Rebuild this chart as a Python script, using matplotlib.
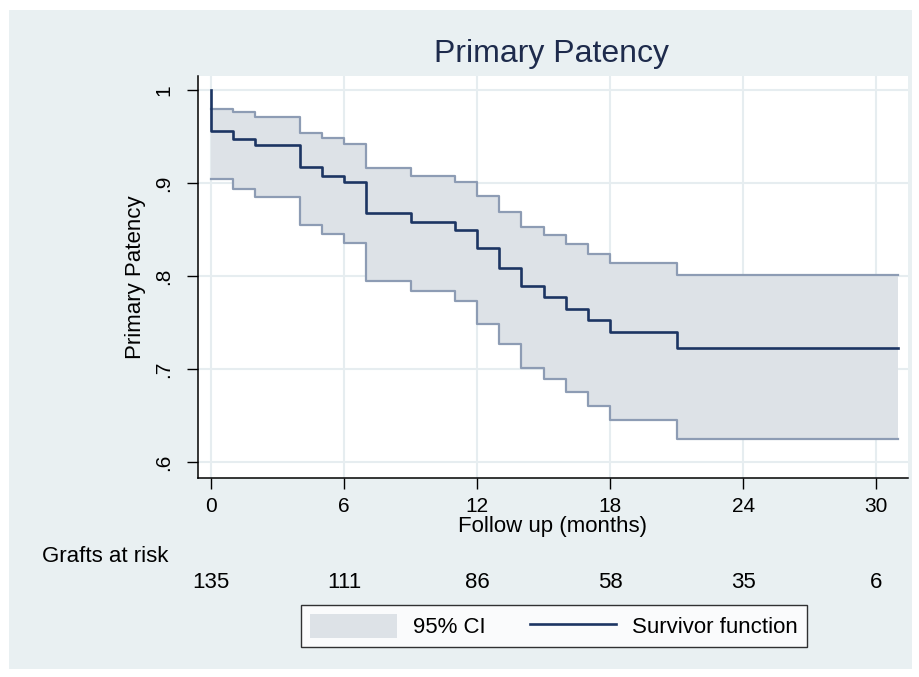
import matplotlib
matplotlib.use("Agg")
import matplotlib.pyplot as plt
import matplotlib.transforms as mtransforms
from matplotlib.patches import Patch, Rectangle
from matplotlib.lines import Line2D

plt.rcParams["font.family"] = ["Liberation Sans", "DejaVu Sans"]

# Kaplan-Meier estimate (months)
times = [0, 1, 2, 4, 5, 6, 7, 9, 11, 12, 13, 14, 15, 16, 17, 18, 21, 31]
survival = [0.956, 0.947, 0.941, 0.917, 0.908, 0.901, 0.868, 0.858, 0.849,
            0.830, 0.809, 0.789, 0.777, 0.765, 0.753, 0.740, 0.723, 0.723]
upper_ci = [0.980, 0.976, 0.971, 0.954, 0.948, 0.942, 0.916, 0.908, 0.901,
            0.886, 0.869, 0.853, 0.844, 0.834, 0.824, 0.814, 0.801, 0.801]
lower_ci = [0.904, 0.894, 0.885, 0.855, 0.845, 0.835, 0.795, 0.784, 0.773,
            0.749, 0.727, 0.701, 0.689, 0.675, 0.660, 0.645, 0.625, 0.625]

risk_times = [0, 6, 12, 18, 24, 30]
at_risk = [135, 111, 86, 58, 35, 6]

y_ticks = [0.6, 0.7, 0.8, 0.9, 1.0]
y_labels = [".6", ".7", ".8", ".9", "1"]

BG = "#e9f0f2"
NAVY = "#1c3563"
CI_FILL = "#dde2e7"
CI_EDGE = "#8d9cb4"

W, H = 920, 677
fig = plt.figure(figsize=(W / 100, H / 100), dpi=100, facecolor="white")
fig.patches.append(Rectangle((9 / W, 8 / H), 903 / W, 659 / H,
                             transform=fig.transFigure, facecolor=BG,
                             edgecolor="none", zorder=-10))

ax = fig.add_axes([198 / W, (H - 478) / H, 710 / W, 402 / H])
ax.set_facecolor("white")

# CI band and bounds
ax.fill_between(times, lower_ci, upper_ci, step="post", color=CI_FILL,
                linewidth=0, zorder=2)
ax.step(times, upper_ci, where="post", color=CI_EDGE, lw=1.6, zorder=3)
ax.step(times, lower_ci, where="post", color=CI_EDGE, lw=1.6, zorder=3)

# survivor function, starting at 1 at time 0
ax.step([0] + times, [1.0] + survival, where="post", color=NAVY, lw=1.9,
        zorder=4)

ax.set_xlim(-0.59, 31.44)
ax.set_ylim(0.583, 1.015)
ax.set_xticks(risk_times)
ax.set_yticks(y_ticks)
ax.set_yticklabels(y_labels, rotation=90, va="center")
ax.tick_params(axis="both", labelsize=15, length=8, width=1,
               colors="black")
ax.tick_params(axis="x", pad=6)
ax.tick_params(axis="y", pad=10)
ax.grid(True, color="#e6edf0", lw=1.5, zorder=0)
ax.set_axisbelow(True)
for side in ("top", "right"):
    ax.spines[side].set_visible(False)
for side in ("left", "bottom"):
    ax.spines[side].set_linewidth(1.1)

ax.set_xlabel("Follow up (months)", fontsize=16, labelpad=0)
ax.set_ylabel("Primary Patency", fontsize=16, labelpad=6)
fig.text(551 / W, (H - 54) / H, "Primary Patency", fontsize=23,
         color="#1e2b4c", ha="center", va="center")

# number at risk table
trans = mtransforms.blended_transform_factory(ax.transData, fig.transFigure)
fig.text(42 / W, (H - 557) / H, "Grafts at risk", fontsize=16,
         ha="left", va="center")
for t, n in zip(risk_times, at_risk):
    ax.text(t, (H - 583) / H, str(n), transform=trans, fontsize=16,
            ha="center", va="center", clip_on=False)

handles = [Patch(facecolor=CI_FILL, edgecolor="none"),
           Line2D([0], [0], color=NAVY, lw=1.9)]
leg = fig.legend(handles, ["95% CI", "Survivor function"], ncol=2,
                 loc="center", bbox_to_anchor=(554 / W, (H - 626) / H),
                 fontsize=16, frameon=True, fancybox=False,
                 handlelength=3.9, handleheight=1.3, handletextpad=0.7,
                 columnspacing=2.0, borderpad=0.4, borderaxespad=0)
leg.get_frame().set_edgecolor("black")
leg.get_frame().set_linewidth(1.0)
leg.get_frame().set_facecolor("white")

fig.savefig("out.png", dpi=100, facecolor="white")
